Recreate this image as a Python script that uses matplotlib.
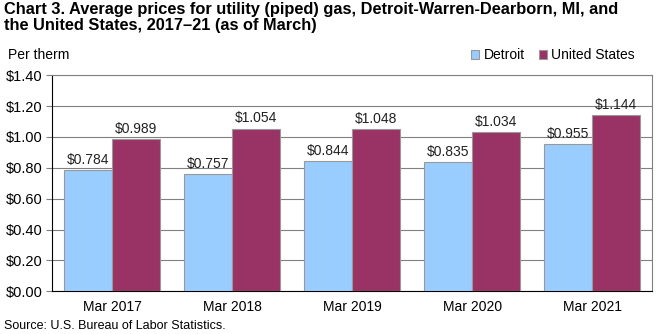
import numpy as np
import matplotlib
matplotlib.use('Agg')
import matplotlib.pyplot as plt

plt.rcParams['font.family'] = ['Liberation Sans', 'DejaVu Sans']

# average price per therm, March of each year
years = ["Mar 2017", "Mar 2018", "Mar 2019", "Mar 2020", "Mar 2021"]
detroit = [0.784, 0.757, 0.844, 0.835, 0.955]
us = [0.989, 1.054, 1.048, 1.034, 1.144]

c_det = "#99CCFF"
c_us = "#993366"

fig = plt.figure(figsize=(6.6, 3.34), dpi=100)
ax = fig.add_axes([0.079, 0.128, 0.909, 0.647])

x = np.arange(len(years))
w = 0.4
b1 = ax.bar(x - w/2, detroit, w, color=c_det, edgecolor="#999999", linewidth=0.8, label="Detroit", zorder=3)
b2 = ax.bar(x + w/2, us, w, color=c_us, edgecolor="#999999", linewidth=0.8, label="United States", zorder=3)

for bars, vals in ((b1, detroit), (b2, us)):
    for r, v in zip(bars, vals):
        ax.text(r.get_x() + r.get_width()/2, v + 0.02, "${:.3f}".format(v),
                ha="center", va="bottom", fontsize=10, color="#222222", zorder=4)

ax.set_xlim(-0.5, len(years) - 0.5)
ax.set_ylim(0, 1.4)
ax.set_yticks(np.arange(0, 1.41, 0.2))
ax.set_yticklabels(["${:.2f}".format(t) for t in np.arange(0, 1.41, 0.2)], fontsize=10.5)
ax.set_xticks(x)
ax.set_xticklabels(years, fontsize=10)
ax.tick_params(axis="x", length=0, pad=6)
ax.tick_params(axis="y", length=4, width=0.8, color="#808080", pad=3)
ax.grid(axis="y", color="#808080", linewidth=0.8, zorder=0)

ax.spines["left"].set_color("black")
ax.spines["bottom"].set_color("black")
ax.spines["top"].set_color("#808080")
ax.spines["right"].set_color("#808080")
for s in ax.spines.values():
    s.set_linewidth(0.8)

fig.text(0.006, 0.995, "Chart 3. Average prices for utility (piped) gas, Detroit-Warren-Dearborn, MI, and\nthe United States, 2017\u201321 (as of March)",
         ha="left", va="top", fontsize=11.8, fontweight="bold", linespacing=1.1)
fig.text(0.012, 0.815, "Per therm", ha="left", va="bottom", fontsize=10)
fig.text(0.006, 0.005, "Source: U.S. Bureau of Labor Statistics.", ha="left", va="bottom", fontsize=9)

leg = ax.legend(loc="lower right", bbox_to_anchor=(0.985, 1.02), ncol=2, frameon=False, fontsize=10,
                handlelength=0.6, handleheight=0.6, handletextpad=0.3, columnspacing=1.0, borderaxespad=0.2)
for h in leg.legend_handles:
    h.set_edgecolor("#999999")

fig.savefig("out.png", dpi=100)
